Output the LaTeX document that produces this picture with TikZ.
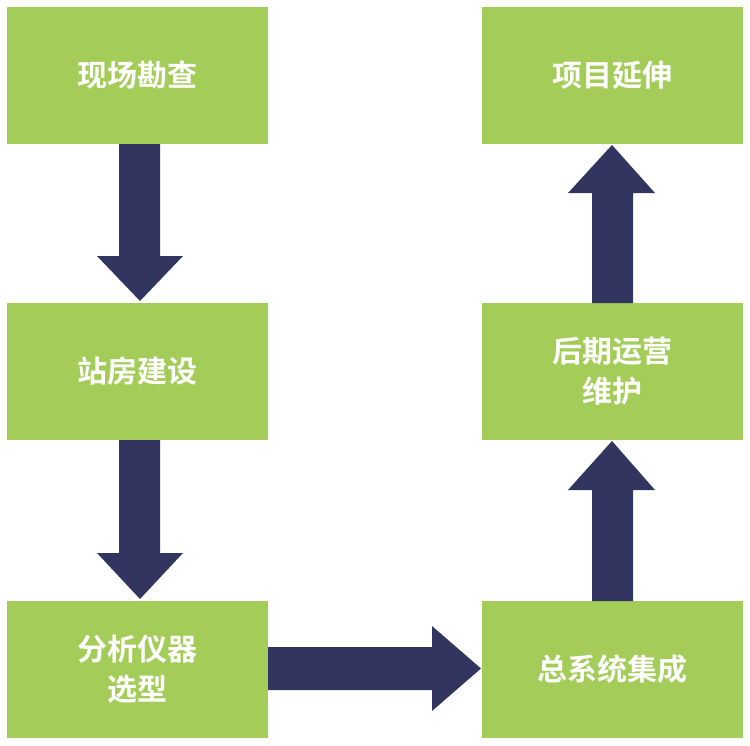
\documentclass[tikz,border=0pt]{standalone}
\usepackage{fontspec}
\newfontfamily\cjk{Noto Sans CJK SC Bold}
\definecolor{boxg}{HTML}{A3CD58}
\definecolor{navy}{HTML}{323560}
\begin{document}
\begin{tikzpicture}[x=1pt,y=-1pt,
  box/.style={fill=boxg,minimum width=261pt,minimum height=137pt,inner sep=0pt,text=white,font=\cjk\fontsize{30}{40}\selectfont,align=center},
  arr/.style={fill=navy,draw=none}]
\useasboundingbox (0,0) rectangle (750,745);
\node[box] (a) at (137.5,75.5) {现场勘查};
\node[box] (b) at (137.5,371.5) {站房建设};
\node[box] (c) at (137.5,669.5) {分析仪器\\选型};
\node[box] (d) at (612.5,669.5) {总系统集成};
\node[box] (e) at (612.5,371.5) {后期运营\\维护};
\node[box] (f) at (612.5,75.5) {项目延伸};
% down arrows
\fill[arr] (119,144) -- (160,144) -- (160,256) -- (183,256) -- (140,301) -- (97,256) -- (119,256) -- cycle;
\fill[arr] (119,440) -- (160,440) -- (160,553) -- (183,553) -- (140,599) -- (97,553) -- (119,553) -- cycle;
% right arrow
\fill[arr] (268,647) -- (432,647) -- (432,626) -- (481,668.5) -- (432,711) -- (432,690) -- (268,690) -- cycle;
% up arrows
\fill[arr] (592,601) -- (633,601) -- (633,490) -- (655,490) -- (612,441) -- (568,490) -- (592,490) -- cycle;
\fill[arr] (592,303) -- (633,303) -- (633,193) -- (655,193) -- (612,145) -- (568,193) -- (592,193) -- cycle;
\end{tikzpicture}
\end{document}
